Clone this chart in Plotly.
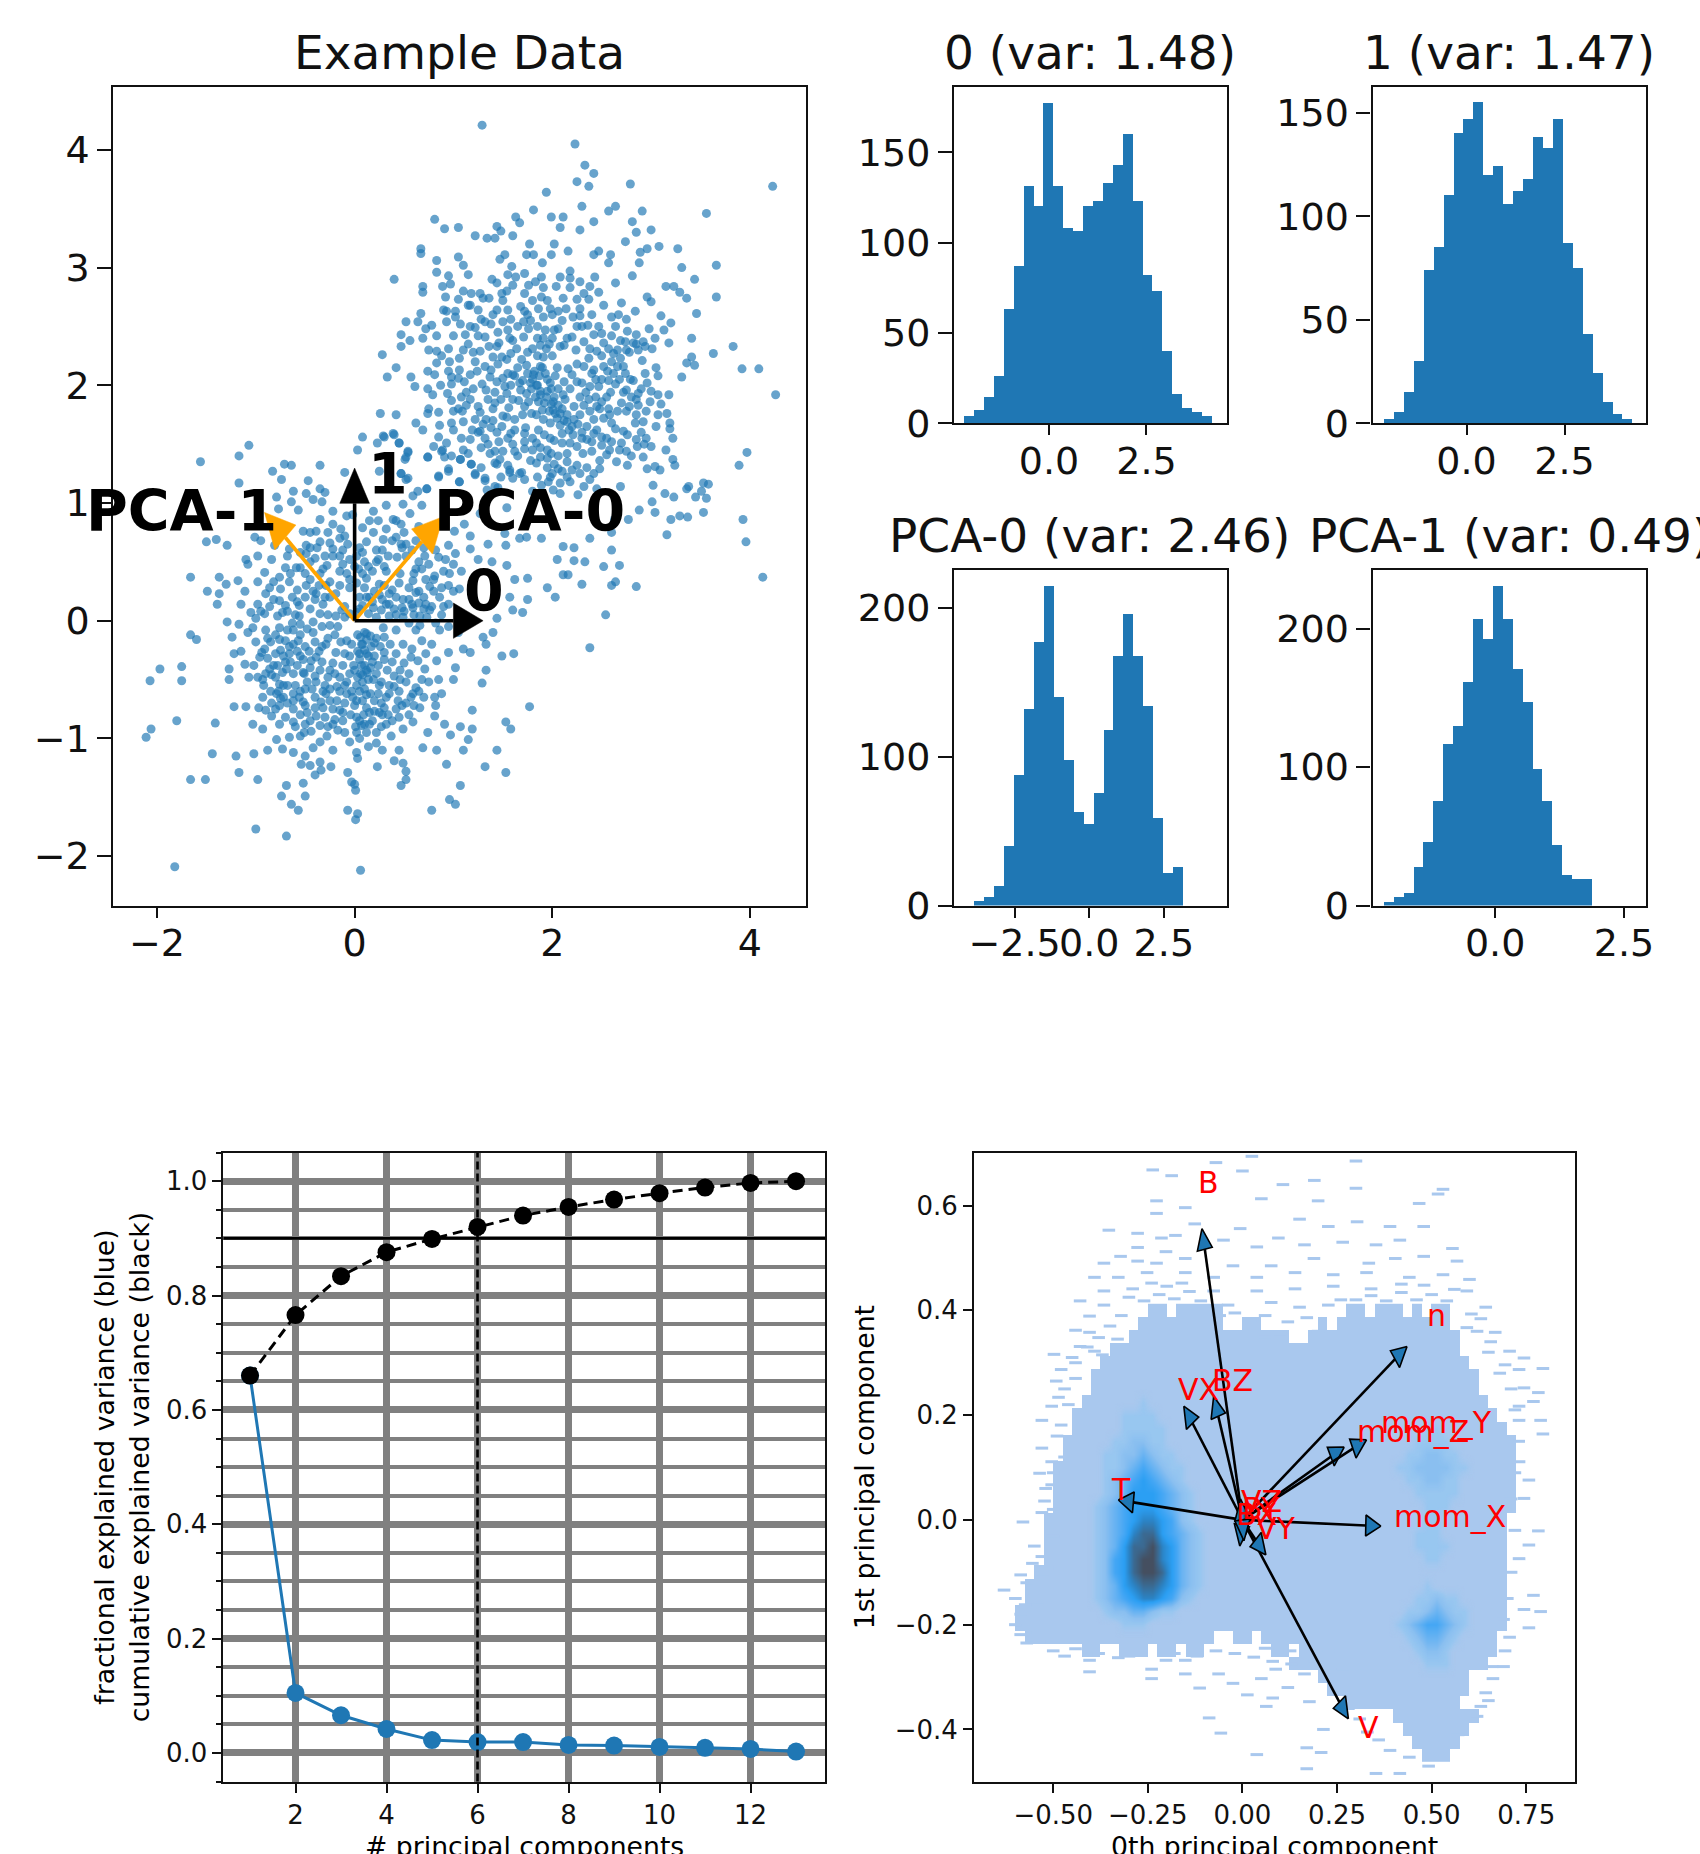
import plotly.graph_objects as go

FONT = "DejaVu Sans"
BLUE = "#1f77b4"
S = 1700 / 1438.0
W, H = 1700.0, 1854.0

# ---------- example data ----------
upper_cluster = [
(1.29,4.21),(2.23,4.05),(2.33,3.87),(2.42,3.80),(2.25,3.73),(2.37,3.69),(2.79,3.71),(1.94,3.64),(4.23,3.69),(2.30,3.52),
(2.64,3.52),(2.57,3.48),(2.91,3.48),(3.56,3.46),(1.81,3.49),(1.63,3.43),(1.99,3.43),(2.11,3.43),(1.67,3.38),(2.42,3.39),
(2.81,3.39),(.81,3.41),(.91,3.33),(1.05,3.34),(1.44,3.35),(1.48,3.31),(1.22,3.27),(1.34,3.25),(1.42,3.25),(1.60,3.27),
(2.08,3.34),(2.28,3.32),(2.85,3.30),(3.00,3.32),(2.74,3.22),(1.77,3.20),(2.02,3.20),(3.08,3.18),(2.96,3.16),(2.89,3.13),
(3.27,3.16),(2.16,3.14),(2.47,3.14),(2.42,3.11),(2.59,3.11),(.67,3.16),(.67,3.12),(1.05,3.09),(1.52,3.11),(1.47,3.07),
(1.74,3.11),(1.81,3.11),(1.99,3.11),(.83,3.06),(1.90,3.04),(2.57,3.04),(2.88,3.04),(3.66,3.02),(3.31,3.00),(1.10,3.02),
(1.59,3.01),(.83,2.96),(.95,2.93),(1.15,2.94),(2.18,2.97),(2.81,2.93),(.40,2.90),(3.44,2.90),(2.64,2.87),(1.39,2.90),
(1.44,2.87),(1.55,2.94),(1.72,2.95),(1.89,2.92),(2.18,2.91),(2.43,2.92),(2.28,2.88),(3.15,2.84),(3.23,2.84),(.69,2.84),
(.69,2.79),(.97,2.86),(.89,2.84),(1.10,2.80),(1.18,2.78),(1.27,2.78),(1.49,2.78),(1.60,2.85),(1.76,2.85),(1.91,2.83),
(2.04,2.84),(2.18,2.83),(2.38,2.84),(2.47,2.79),(3.29,2.79),(3.66,2.75),(3.36,2.74),(.92,2.75),(1.05,2.73),(1.36,2.74),
(1.72,2.78),(1.80,2.72),(1.89,2.75),(2.11,2.74),(2.25,2.73),(2.37,2.73),(2.96,2.75),(3.00,2.71),(2.70,2.70),(2.84,2.63),
(3.46,2.61),(.67,2.61),(.93,2.63),(1.02,2.63),(1.17,2.68),(1.25,2.64),(1.44,2.64),(1.55,2.64),(1.72,2.63),(1.98,2.65),
(2.06,2.63),(2.28,2.65),(2.40,2.60),(2.67,2.60),(3.10,2.59),(.52,2.54),(.64,2.54),(.93,2.54),(1.02,2.58),(1.32,2.54),
(1.50,2.54),(1.71,2.54),(1.91,2.58),(2.21,2.58),(2.75,2.56),(3.20,2.53),(.78,2.51),(1.17,2.50),(1.55,2.47),(1.76,2.48),
(1.93,2.47),(2.06,2.48),(2.30,2.50),(2.47,2.50),(2.64,2.50),(3.13,2.47),(.47,2.43),(.56,2.38),(.69,2.40),(.83,2.42),
(1.00,2.42),(1.12,2.43),(1.32,2.41),(1.57,2.40),(1.71,2.41),(1.91,2.40),(2.20,2.41),(2.42,2.43),(2.69,2.38),(2.85,2.43),
(2.92,2.37),(3.41,2.40),(.47,2.33),(.83,2.29),(.95,2.31),(1.10,2.30),(1.27,2.29),(1.44,2.33),(1.64,2.31),(1.94,2.31),
(2.08,2.33),(2.45,2.29),(2.62,2.27),(2.82,2.36),(3.01,2.31),(3.18,2.36),(3.83,2.33),(3.63,2.27),(.28,2.26),(.83,2.19),
(.96,2.20),(1.22,2.20),(1.40,2.24),(1.54,2.22),(1.91,2.24),(2.37,2.23),(2.69,2.23),(2.91,2.21),(3.41,2.24),(3.36,2.19),
(3.44,2.17),(.42,2.15),(.74,2.12),(.95,2.12),(1.06,2.13),(1.32,2.16),(1.74,2.17),(1.88,2.16),(2.16,2.14),(2.52,2.16),
(2.72,2.16),(3.05,2.15),(3.92,2.14),(4.09,2.14),(.33,2.07),(.57,2.07),(.81,2.09),(.98,2.07),(1.17,2.09),(1.37,2.07),
(1.60,2.09),(1.81,2.09),(2.20,2.09),(2.42,2.13),(2.62,2.10),(2.94,2.10),(3.07,2.08),(3.31,2.07),(.61,1.99),(.98,2.01),
(1.11,2.03),(1.29,2.01),(1.44,2.03),(1.67,2.02),(1.84,2.00),(2.25,2.03),(2.38,1.99),(2.47,1.99),(2.64,2.01),(2.79,2.05),
(2.96,2.02),(.74,1.97),(.79,1.92),(1.13,1.94),(1.42,1.94),(1.54,1.93),(1.74,1.93),(1.88,1.92),(2.11,1.92),(2.28,1.90),
(2.59,1.94),(2.75,1.96),(2.87,1.93),(3.07,1.92),(3.18,1.92),(4.26,1.92),(.98,1.87),(1.17,1.88),(1.42,1.85),(1.60,1.88),
(1.86,1.86),(2.01,1.86),(2.13,1.88),(2.37,1.88),(2.85,1.88),(2.99,1.86),(1.05,1.80),(1.13,1.83),(1.72,1.82),(2.45,1.82),
(2.57,1.80),(2.01,1.79),(.26,1.76),(.42,1.75),(.74,1.76),(.85,1.77),(1.00,1.78),(1.27,1.77),(1.54,1.73),(1.84,1.75),
(2.08,1.76),(2.28,1.75),(2.75,1.78),(3.07,1.75),(2.58,1.75),(.98,1.68),(1.10,1.69),(1.33,1.71),(.86,1.66),(3.19,1.68),
(2.92,1.69),(2.42,1.71),(2.15,1.69),(1.91,1.71),(3.19,1.63),(.69,1.62),(.39,1.59),(.29,1.57),(.85,1.56),(1.08,1.55),
(1.17,1.54),(1.27,1.61),(1.44,1.60),(1.58,1.59),(1.72,1.59),(1.86,1.62),(2.10,1.59),(2.21,1.58),(2.42,1.59),(2.64,1.63),
(2.85,1.54),(3.22,1.55),(.45,1.51),(.93,1.51),(1.32,1.55),(1.98,1.55),(2.35,1.54),(2.50,1.56),(2.70,1.51),(.54,1.44),
(.89,1.45),(1.42,1.44),(1.62,1.44),(1.84,1.51),(1.72,1.46),(2.10,1.51),(2.25,1.48),(2.58,1.45),(2.75,1.44),(3.15,1.45),
(3.97,1.43),(.52,1.39),(.74,1.39),(.91,1.39),(1.07,1.37),(1.47,1.37),(1.88,1.39),(1.99,1.42),(2.15,1.42),(2.31,1.42),
(2.55,1.41),(2.92,1.39),(3.22,1.37),(1.18,1.33),(1.42,1.34),(1.84,1.34),(2.25,1.32),(2.76,1.32),(3.04,1.31),(3.24,1.32),
(3.89,1.32),(.95,1.29),(1.57,1.28),(1.69,1.26),(2.06,1.29),(2.28,1.25),(2.48,1.29),(2.96,1.29),(3.09,1.28),(.47,1.25),
(.85,1.23),(1.22,1.24),(1.32,1.21),(1.60,1.21),(1.98,1.22),(2.15,1.22),(2.38,1.20),(1.06,1.18),(.54,1.21),(1.42,1.14),
(1.89,1.15),(2.08,1.17),(2.45,1.12),(2.69,1.14),(3.02,1.15),(3.14,1.08),(3.36,1.12),(3.58,1.16),(3.51,1.10),(.73,1.12),
(.64,1.10),(1.34,1.11),(2.01,1.11),(2.26,1.07),(3.23,1.05),
(3.53,1.17),(3.38,1.14),(3.56,1.04),(3.45,1.05),(3.53,.92),(3.2,.86),(3.29,.89),(3.37,.88),(3.04,.92),(3.16,.73),
(3.93,.86),(3.96,.67),(4.13,.37),(2.85,.29),(2.60,.30),(2.64,.33),(2.54,.05),(2.38,-.23),(2.03,.20),(1.95,.28),
(2.30,.31),(2.16,.39),(2.11,.39),(2.52,.46),(2.60,.60),(2.68,.47),(2.05,.52),(2.22,.51),(2.33,.50),(2.11,.63),
(2.22,.62),(2.38,.70),(2.63,.86),(2.77,.86),(2.88,.94),(2.60,.75),(1.89,.70),(1.67,.70),(3.01,1.01),
(1.75,2.10),(1.80,2.05),(1.85,2.00),(1.90,2.15),(1.95,2.05),(2.00,2.25),(2.05,2.15),(1.95,1.95),(2.02,1.90),(1.92,1.85),
(2.10,1.80),(2.15,1.75),(2.05,1.72),(1.98,1.68),(2.20,1.65),(2.30,1.60),(2.35,1.65),(2.45,1.62),(2.55,1.55),(2.15,2.40),
(2.00,2.40),(2.10,2.55),(2.00,2.60),(2.25,2.50),(1.85,2.25),(1.75,2.28),(1.65,2.15),(1.55,2.10),(1.45,2.18),(1.85,2.50),
(1.75,2.60),(1.65,2.50),(1.45,2.45),(1.40,2.60),(1.25,2.42),(1.15,2.35),(2.75,2.30),(2.85,2.35),(2.60,2.20),(2.50,2.25),
(2.40,2.10),(2.50,2.05),(2.55,1.90),(2.70,1.85),(2.85,1.75),(2.90,1.60),(2.95,1.55),(3.00,1.95),(1.40,1.70),(1.25,1.60),
(1.35,1.50),(1.55,1.55),(1.65,1.40),(1.80,1.45),(1.95,1.45),(1.95,1.30),(2.00,1.25),(1.85,1.22),(2.15,1.35),(2.35,1.30),
(1.78,2.02),(1.82,2.12),(1.87,2.08),(1.93,2.10),(1.98,2.02),(2.03,2.08),(1.88,1.95),(1.83,1.90),(1.79,1.97),(1.94,1.90),
(1.99,1.84),(2.06,1.83),(2.12,1.70),(2.08,1.66),(2.17,1.62),(2.22,1.71),(2.26,1.67),(2.03,1.76),(1.97,1.78),(1.90,1.79),
(1.70,2.04),(1.62,2.08),(1.68,1.96),(1.58,2.00),(1.50,2.06),(1.52,1.99),(1.48,1.88),(1.56,1.81),(1.66,1.87),(1.76,1.86),
(1.79,1.76),(1.70,1.75),(1.62,1.71),(1.49,1.65),(1.38,1.64),(1.30,1.67),(1.22,1.71),(1.25,1.82),(1.35,1.88),(1.33,1.96),
(1.20,1.97),(1.08,1.90),(1.05,2.06),(1.24,2.12),(1.38,2.13),(1.49,2.24),(1.58,2.27),(1.69,2.22),(1.80,2.31),(1.88,2.34),
(1.97,2.35),(2.02,2.47),(2.12,2.34),(2.24,2.30),(2.32,2.37),(2.38,2.31),(2.52,2.36),(2.57,2.31),(2.66,2.30),(2.74,2.37),
(2.78,2.28),(2.87,2.30),(2.94,2.33),(2.60,2.42),(2.50,2.44),(2.36,2.51),(2.28,2.59),(2.14,2.65),(1.95,2.72),(1.86,2.65),
(1.78,2.55),(1.68,2.67),(1.58,2.56),(1.50,2.72),(1.38,2.52),(1.28,2.56),(1.22,2.49),(1.36,2.33),(1.20,2.28),(1.06,2.23),
(2.32,2.16),(2.25,2.18),(2.30,2.02),(2.44,2.05),(2.57,2.04),(2.68,2.05),(2.72,1.94),(2.80,1.90),(2.66,1.78),(2.78,1.82),
(2.87,1.83),(2.95,1.78),(2.84,1.68),(2.93,1.50),(2.86,1.48),(2.72,1.61),(2.60,1.68),(2.52,1.72),(2.48,1.80),(2.38,1.78),
(2.32,1.83),(2.22,1.82),(2.30,1.55),(2.40,1.52),(2.50,1.49),(2.60,1.52),(2.68,1.45),(2.76,1.58),(2.40,1.44),(2.18,1.51),
(2.02,1.53),(1.92,1.58),(1.80,1.55),(1.72,1.52),(1.60,1.50),(1.46,1.52),(1.37,1.42),(1.28,1.47),(1.50,1.44),(1.78,1.36),
(1.88,1.47),(1.95,1.38),(2.06,1.40),(2.02,1.33),(2.10,1.27),(2.20,1.28),(2.18,1.18),(1.96,1.18),(1.72,1.20),(1.80,1.10),
(2.08,1.08),(2.32,1.14),(1.10,1.45),(1.00,1.62),(.75,1.80),(.87,2.00),(.88,2.25),(.75,2.30),(.72,2.48),(.90,2.64),
(1.54,2.80),(1.63,2.92),(1.83,2.88),(2.08,2.92),(2.32,2.78),(2.52,2.68),(2.60,2.58),(2.76,2.46),(2.98,2.48),(3.04,2.40),
(1.07,2.52),(1.15,2.68),(1.30,2.74),(1.85,2.40),(1.60,2.38),(1.46,2.36),(1.73,1.64),(1.62,1.62),(1.50,1.74),(1.40,1.80),
(1.19,1.62),(1.09,1.78),(.94,1.93),(2.12,2.03),(2.06,1.97),(1.99,1.97),(2.18,1.97),(2.34,1.94),(2.44,1.90),(2.50,1.86),
(2.56,2.12),(2.66,2.16),(2.74,2.10),(2.82,2.04),(2.90,1.97),(3.10,1.84),(3.16,1.76),(3.05,1.65),(3.00,1.48),(2.80,1.40),
(2.65,1.35),(2.48,1.36),(2.42,1.25),(1.55,1.32),(1.48,1.22),(1.28,1.30),(1.15,1.42),(.98,1.40),(.80,1.48),(.62,1.68),
]
lower_cluster = [
(-1.07,1.49),(-1.17,1.40),(-1.56,1.35),(-.71,1.33),(-.64,1.32),(-.35,1.32),(-.83,1.27),(-.74,1.20),(-1.17,1.17),(-.47,1.19),
(-.10,1.26),(.08,1.56),(.03,1.45),(.23,1.51),(.30,1.56),(.40,1.58),(.45,1.51),(.54,1.43),(.51,1.37),(.74,1.39),
(.88,1.44),(.95,1.27),(1.07,1.37),(1.18,1.33),(.85,1.22),(.25,1.27),(.47,1.25),(.52,1.20),(1.22,1.25),(1.06,1.18),
(1.32,1.19),(1.44,1.33),(1.57,1.26),(1.67,1.25),(1.45,1.13),(-.62,1.10),(-.49,1.08),(-.35,1.12),(-.30,1.09),(-.79,1.05),
(-.64,1.01),(-.42,1.03),(-.33,1.01),(-.77,.95),(-.57,.94),(-.22,.93),(-.08,.89),(.19,.93),(.32,.98),(.49,.99),
(.59,1.06),(.73,1.12),(.68,.98),(.56,.91),(.39,.86),(.24,.85),(-.35,.86),(-.22,.82),(-.52,.76),(-.39,.76),
(-.27,.75),(-.14,.78),(.08,.79),(.32,.78),(.19,.75),(.47,.82),(1.11,.82),(1.27,.91),(1.54,.96),(1.74,.71),
(1.52,.74),(1.17,.72),(1.01,.76),(-1.50,.67),(-1.40,.69),(-1.29,.64),(-1.01,.71),(-.95,.68),(-.81,.64),(-.66,.61),
(-.49,.64),(-.35,.67),(-.22,.61),(-.07,.65),(.12,.67),(.29,.69),(.42,.71),(.52,.65),(.47,.65),(.95,.64),
(1.17,.61),(1.35,.65),(1.53,.64),(1.02,.57),(-1.10,.52),(-1.08,.48),(-.98,.55),(-.84,.52),(-.68,.55),(-.49,.57),
(-.30,.55),(-.15,.55),(.10,.50),(.24,.52),(.43,.54),(.71,.55),(.85,.54),(1.25,.52),(1.39,.50),(1.54,.47),
(1.00,.48),(.62,.44),(-.91,.41),(-.59,.45),(-.32,.44),(-.15,.42),(.08,.40),(.32,.42),(.46,.40),(.81,.38),
(.96,.40),(1.08,.42),(-1.66,.37),(-1.37,.37),(-1.30,.31),(-1.18,.34),(-.98,.33),(-.76,.37),(-.86,.28),(-.49,.30),
(-.29,.30),(-.05,.28),(.25,.31),(.59,.34),(.76,.29),(1.06,.27),(1.62,.35),(1.75,.36),(-1.49,.25),(-1.37,.23),
(-1.11,.25),(-.63,.20),(-.39,.23),(-.19,.23),(.05,.20),(.35,.23),(.49,.18),(.86,.20),(1.00,.25),(1.57,.20),
(1.75,.18),(-1.39,.14),(-1.15,.14),(-.98,.14),(-.76,.17),(-.56,.13),(-.32,.14),(.19,.11),(.32,.14),(.59,.11),
(.76,.09),(.95,.14),(-1.05,.07),(-.91,.06),(-.73,.07),(-.56,.04),(-.35,.06),(-.19,.04),(.49,.03),(.66,.04),
(.88,.05),(1.60,.09),(1.70,.07),(1.44,.02),(-1.29,-.01),(-1.17,-.03),(-1.03,-.06),(-.90,-.08),(-.76,-.06),(-.42,-.10),
(-.25,-.04),(.12,-.11),(.29,-.06),(.42,-.08),(.62,-.08),(.86,-.08),(1.40,-.10),(1.30,-.14),(-1.66,-.12),(-1.60,-.16),
(-1.24,-.14),(-1.00,-.18),(-.76,-.16),(-.57,-.17),(-.29,-.20),(-.08,-.17),(.08,-.20),(.49,-.20),(.68,-.17),(1.33,-.20),
(1.10,-.24),(1.17,-.27),(1.49,-.30),(1.61,-.28),(-1.22,-.28),(-1.15,-.26),(-.91,-.24),(-.66,-.28),(-.39,-.31),(-.19,-.27),
(.05,-.28),(.30,-.27),(.57,-.31),(.83,-.34),(.95,-.27),(-1.11,-.37),(-.96,-.31),(-1.27,-.41),(-1.97,-.41),(-1.75,-.39),
(-.86,-.41),(-.69,-.41),(-.51,-.45),(-.25,-.42),(.12,-.42),(.46,-.50),(.71,-.41),(1.02,-.40),(1.33,-.42),(-2.07,-.51),
(-1.75,-.51),(-1.27,-.50),(-1.07,-.48),(-.93,-.50),(-.76,-.54),(-.39,-.52),(-.08,-.52),(.25,-.55),(.62,-.57),(.85,-.50),
(1.00,-.50),(1.29,-.53),(-.79,-.62),(-.93,-.65),(-.56,-.65),(-.29,-.62),(-.02,-.65),(.32,-.65),(.59,-.62),(.81,-.65),
(.88,-.62),(-1.22,-.73),(-1.10,-.73),(-.97,-.74),(-.76,-.72),(-.52,-.69),(-.32,-.74),(-.15,-.76),(.12,-.74),(.42,-.75),
(.66,-.74),(.82,-.72),(1.19,-.76),(1.77,-.73),(-.84,-.81),(-.39,-.81),(.02,-.82),(.25,-.78),(.81,-.81),(-1.80,-.85),
(-1.41,-.87),(-1.03,-.88),(-.93,-.92),(-.76,-.88),(-.35,-.89),(-.22,-.88),(.07,-.89),(.32,-.88),(.59,-.86),(.91,-.88),
(1.07,-.90),(1.19,-.92),(1.53,-.86),(1.58,-.92),(-2.06,-.92),(-2.11,-.99),(-.79,-1.01),(-.66,-.99),(-.51,-.95),(-.35,-1.03),
(-.17,-.93),(-.05,-1.03),(.22,-1.04),(.37,-.98),(.49,-.92),(.74,-.95),(.97,-.97),(1.15,-1.01),(-.73,-1.09),(-.88,-1.10),
(-1.44,-1.13),(-1.20,-1.15),(-1.02,-1.13),(-.22,-1.10),(.02,-1.12),(.45,-1.10),(.69,-1.08),(.83,-1.10),(1.10,-1.10),(1.44,-1.10),
(-.50,-1.15),(.03,-1.17),(.40,-1.19),(-.54,-1.22),(-.45,-1.23),(-.35,-1.20),(-.24,-1.24),(.23,-1.24),(.49,-1.21),(.93,-1.22),
(1.32,-1.24),(-1.17,-1.29),(-.34,-1.27),(-.07,-1.29),(.52,-1.28),(1.53,-1.29),(-1.66,-1.35),(-1.51,-1.35),(-.98,-1.35),(-.40,-1.31),
(-.52,-1.38),(-.03,-1.37),(.52,-1.35),(-.69,-1.40),(.47,-1.40),(0,-1.39),(.01,-1.44),(1.07,-1.40),(-.74,-1.49),(-.50,-1.49),
(-.64,-1.56),(.96,-1.52),(1.02,-1.56),(-.57,-1.61),(-.07,-1.61),(.78,-1.61),(.03,-1.64),(.01,-1.69),(-1.00,-1.77),(-.69,-1.83),
(-1.82,-2.09),(.06,-2.12),
(.10,-.25),(.05,-.33),(.14,-.30),(.10,-.38),(.18,-.35),(.06,-.45),(.14,-.50),(.02,-.55),(.10,-.58),(.16,-.62),
(.22,-.45),(.20,-.68),(.08,-.68),(.00,-.72),(.15,-.78),(.05,-.85),(.12,-.95),(.02,-.95),(.18,-.85),(.28,-.80),
(.35,-.55),(.38,-.35),(.55,-.45),(.60,-.72),(.55,-.80),(.48,-.72),
(-.55,-.30),(-.50,-.22),(-.62,-.20),(-.70,-.35),(-.62,-.45),(-.72,-.55),(-.80,-.48),(-.60,-.55),(-.50,-.58),(-.45,-.40),
(-.35,-.42),(-.30,-.55),(-.20,-.45),(-.12,-.38),(-.15,-.60),(-.25,-.68),(-.40,-.65),(-.50,-.72),(-.62,-.75),(-.55,-.80),
(-.45,-.85),(-.30,-.82),(-.22,-.75),(-.10,-.70),(-.68,-.70),(-.80,-.75),(-.85,-.60),(-.90,-.45),(-.75,-.25),(-.85,-.18),
(-.62,-.08),(-.55,-.12),
(-.45,.10),(-.60,.05),(-.70,.13),(-.82,.18),(-.40,.18),(-.25,.20),(-.10,.12),(-.05,.35),(.15,.20),(.10,.28),
(.25,.22),(.40,.10),(.55,.18),(.70,.20),(.70,.10),(.95,-.05),(1.05,-.10),(-.12,.48),(.02,.55),(.18,.42),
(.28,.60),(.52,.55),(.65,.50),(-.45,.50),(-.70,.45),(-.15,.70),(.05,.62),(-.45,.75),(-.02,.90),(.15,.85),
(.42,.85),(.65,.80),(.70,.62),(.90,.42),(.75,.48),(.50,.75),
(.12,-.16),(.07,-.20),(.17,-.22),(.03,-.12),(.22,-.15),(.26,-.22),(.20,-.30),(.07,-.38),(.13,-.44),(.19,-.50),
(.03,-.48),(.08,-.52),(.24,-.38),(.30,-.33),(.33,-.42),(.40,-.47),(.27,-.52),(.35,-.62),(.45,-.60),(.52,-.52),
(.57,-.65),(.44,-.68),(.24,-.62),(.27,-.70),(.12,-.63),(.05,-.60),(-.03,-.60),(-.05,-.45),(-.01,-.38),(-.05,-.30),
(-.10,-.28),(-.14,-.18),(-.20,-.12),(-.27,-.15),(-.33,-.22),(-.40,-.18),(-.46,-.26),(-.52,-.33),(-.58,-.38),(-.65,-.35),
(-.73,-.44),(-.82,-.38),(-.80,-.28),(-.70,-.17),(-.68,-.08),(-.63,-.02),(-.55,-.03),(-.48,-.07),(-.42,-.01),(-.33,-.05),
(-.27,.05),(-.17,-.05),(-.10,.03),(-.13,.09),(-.05,.06),(.03,.07),(.08,.13),(.14,.06),(.22,.03),(.27,.09),
(.35,.04),(.42,.05),(.48,.11),(.55,-.02),(.60,.05),(.66,-.04),(.73,.03),(.78,.12),(.82,-.02),(.90,.12),
(-.42,.25),(-.50,.20),(-.58,.26),(-.66,.33),(-.75,.27),(-.82,.33),(-.90,.23),(-.95,.08),(-1.00,.02),(-1.08,-.10),
(-.88,-.15),(-.94,-.27),(-1.02,-.38),(-.88,-.32),(-.80,-.12),(-.45,.35),(-.35,.40),(-.25,.33),(-.15,.30),(-.08,.40),
(.02,.32),(.12,.36),(.20,.25),(.30,.30),(.38,.26),(.45,.32),(.55,.28),(.65,.25),(.72,.35),(.80,.25),
(-.55,.45),(-.45,.62),(-.55,.58),(-.40,.53),(-.28,.47),(-.22,.55),(-.12,.60),(-.05,.52),(.04,.44),(.14,.46),
(.22,.60),(.34,.55),(.38,.68),(.58,.60),(.62,.68),(.75,.70),(.82,.60),(.92,.52),(.95,.30),(.65,.15),
(-.62,-.62),(-.48,-.52),(-.40,-.47),(-.33,-.35),(-.22,-.36),(-.27,-.48),(-.15,-.48),(-.10,-.55),(-.18,-.68),(-.32,-.60),
(-.43,-.58),(-.55,-.60),(-.62,-.68),(-.72,-.65),(-.77,-.60),(-.48,-.78),(-.40,-.74),(-.27,-.90),(-.12,-.85),(-.04,-.80),
(.02,-.68),(.09,-.80),(.15,-.88),(.22,-.95),(.27,-.90),(.38,-.85),(.45,-.82),(.30,-.74),(.65,-.60),(.70,-.65),
(-.60,-.90),(-.55,-.98),(-.44,-.94),(-.28,-.98),(-.10,-.95),(.05,-1.00),(.14,-1.07),(-.42,-1.08),(-.62,-1.12),(.28,-1.10),
(.06,-.14),(.10,-.10),(.16,-.13),(.20,-.19),(.12,-.28),(.16,-.40),(.08,-.46),(.00,-.42),(.03,-.26),(-.03,-.20),
(.30,-.14),(.36,-.20),(.42,-.28),(.50,-.36),(.58,-.24),(.64,-.34),(.72,-.28),(.78,-.20),(.75,-.52),(.68,-.50),
(-.36,-.26),(-.44,-.34),(-.52,-.44),(-.58,-.26),(-.66,-.22),(-.72,-.30),(-.78,-.38),(-.84,-.46),(-.92,-.55),(-.98,-.48),
(-.68,-.55),(-.75,-.66),(-.84,-.70),(-.90,-.76),(-.70,-.82),(-.62,-.86),(-.50,-.88),(-.34,-.69),(-.25,-.58),(-.18,-.56),
(-.08,-.62),(-.12,-.78),(-.20,-.84),(.01,-.90),(.10,-.88),(.20,-.77),(.34,-.80),(.52,-.70),(.40,-.56),(.46,-.42),
(-.30,.20),(-.36,.30),(-.58,.16),(-.68,.08),(-.78,.04),(-.86,.12),(-.65,.40),(-.50,.40),(-.38,.62),(-.25,.66),
(-.10,.72),(.00,.46),(.08,.58),(.22,.50),(.30,.46),(.48,.62),(.60,.40),(.68,.44),(.80,.35),(.88,.28),
(.05,.10),(.12,.20),(.18,.16),(.28,.18),(.35,.14),(.42,.20),(.50,.08),(.58,.14),(.62,.24),(.72,.14),
]

# histogram counts with first bin edge and bin width
hist_0 = [4,7,14,26,63,87,131,120,177,131,108,106,120,123,133,143,160,123,82,73,40,16,8,6,4]
hist_1 = [2,5,15,30,74,85,110,140,147,155,120,124,106,112,118,138,133,147,87,75,43,24,10,4,2]
hist_p0 = [3,6,13,40,88,132,177,215,140,98,63,55,76,118,168,196,168,134,59,22,26]
hist_p1 = [3,6,9,28,46,76,117,130,162,207,193,231,207,171,147,99,76,44,22,19,19]

# ---------- explained variance ----------
n_components = [1,2,3,4,5,6,7,8,9,10,11,12,13]
frac_var = [.66,.105,.066,.042,.0225,.019,.019,.014,.013,.0105,.009,.007,.0024]
cum_var = [.66,.766,.834,.876,.899,.920,.940,.955,.968,.979,.989,.997,1.0]

# ---------- biplot: arrow tips and labels ----------
arrow_names = ["B","BZ","VX","T","n","mom_Z","mom_Y","mom_X","V","VY","VZ","BY","BX"]
arrow_x = [-.107,-.076,-.155,-.328,.435,.269,.328,.366,.28,.062,-.005,-.007,.004]
arrow_y = [.556,.236,.217,.038,.331,.139,.153,-.012,-.38,-.067,.04,-.05,-.04]
label_x = [-.091,-.025,-.116,-.322,.513,.451,.513,.549,.334,.088,.050,.048,.038]
label_y = [.644,.267,.248,.058,.390,.168,.186,.007,-.397,-.017,.036,.022,.010]

# density levels (0 = empty); rows run top to bottom from y=0.40, step 0.025; columns from x=-0.70, step 0.025
density_rows = [
"00000000 00000000 00110111 11000000 00000001 10111010 11000000 00000000",
"00000000 00000000 01111111 11001100 00001011 11111111 11000000 00000000",
"00000000 00000000 11111111 11111111 10011111 11111111 11100000 00000000",
"00000000 00000011 11111111 11111111 11111111 11111111 11100000 00000000",
"00000000 00000111 11111111 11111111 11111111 11111111 11110000 00000000",
"00000000 00001111 11111111 11111111 11111111 11111111 11111000 00000000",
"00000000 00001111 11111111 11111111 11111111 11111111 11111000 00000000",
"00000000 00011111 12111111 11111111 11111111 11111111 11111100 00000000",
"00000000 00111112 22211111 11111111 11111111 11111111 11111110 00000000",
"00000000 00111112 22221111 11111111 11111111 11111112 21111111 00000000",
"00000000 01111122 33221111 11111111 11111111 11111122 22111111 10000000",
"00000000 01111223 34322111 11111111 11111111 11111223 32211111 10000000",
"00000000 11111223 45432211 11111111 11111111 11112233 33221111 10000000",
"00000000 11111234 56543211 11111111 11111111 11111223 32211111 10000000",
"00000000 11111234 66654321 11111111 11111111 11111122 22211111 10000000",
"00000000 11112345 66654321 11111111 11111111 11111112 22111111 10000000",
"00000001 11112345 67765321 11111111 11111111 11111112 21111111 00000000",
"00000001 11112345 78865432 11111111 11111111 11111122 21111111 00000000",
"00000001 11112346 88976432 11111111 11111111 11111122 22111111 00000000",
"00000001 11112356 89976432 11111111 11111111 11111112 21111111 00000000",
"00000011 11112356 89986432 11111111 11111111 11111111 11111111 00000000",
"00000111 11112346 78876432 11111111 11111111 11111112 11111111 00000000",
"00000111 11112345 67765321 11111111 11111111 11111122 32211111 00000000",
"00001111 11111233 44322111 11111111 11111111 11111223 43221111 00000000",
"00001111 11111112 22111111 11111111 11111111 11112345 54321111 00000000",
"00000111 11111111 11111111 10011011 11111111 11111234 43211110 00000000",
"00000000 00011001 11011011 00000001 10111111 11111123 32111110 00000000",
"00000000 00000000 00000000 00000000 01111111 11111112 22111100 00000000",
"00000000 00000000 00000000 00000000 00001111 11111111 11110000 00000000",
"00000000 00000000 00000000 00000000 00000111 11111111 11110000 00000000",
"00000000 00000000 00000000 00000000 00000001 11111111 11100000 00000000",
"00000000 00000000 00000000 00000000 00000000 00001111 11111000 00000000",
"00000000 00000000 00000000 00000000 00000000 00000111 11110000 00000000",
"00000000 00000000 00000000 00000000 00000000 00000011 11100000 00000000",
"00000000 00000000 00000000 00000000 00000000 00000001 11000000 00000000",
]
# isolated occupied bins outside the solid region
speck_bins = [
(.21,.715),(.27,.728),(.385,.708),(.025,.694),(.30,.685),(-.07,.682),(-.237,.668),(-.187,.657),(0,.666),(.19,.648),
(.107,.64),(.30,.633),(.53,.631),(-.227,.609),(-.151,.596),(.05,.613),(.20,.609),(.303,.569),(.151,.574),(.467,.604),
(.517,.622),(-.227,.585),(-.126,.565),(-.006,.556),(.095,.538),(.227,.56),(.39,.56),(.479,.56),(-.353,.553),(-.277,.547),
(-.214,.538),(-.177,.543),(-.05,.534),(.038,.521),(.164,.525),(.265,.53),(.353,.525),(.416,.534),(.555,.518),(-.202,.512),
(-.277,.52),(-.322,.503),(-.366,.49),(-.277,.494),(-.227,.49),(-.151,.499),(-.025,.485),(.076,.485),(.189,.499),(.334,.49),
(.404,.499),(.479,.503),(.567,.494),(-.391,.463),(-.328,.463),(-.252,.472),(-.151,.472),(-.076,.463),(.038,.463),(.139,.472),
(.24,.468),(.328,.472),(.441,.463),(.53,.468),(.6,.459),(-.366,.437),(-.29,.441),(-.076,.437),(.038,.437),(.139,.441),
(.24,.446),(.34,.441),(.593,.437),(.643,.406),(-.429,.418),(-.366,.41),(-.038,.41),(.076,.415),(.151,.406),(.227,.41),
(.605,.393),(-.404,.389),(-.441,.362),(-.404,.358),(.593,.367),(.668,.358),(.63,.384),(.656,.34),(.706,.322),(-.429,.331),
(-.391,.322),(-.498,.316),(-.441,.3),(.744,.309),(.794,.289),(.731,.287),(.694,.296),(-.479,.287),(-.441,.27),(-.492,.265),
(.782,.243),(.744,.252),(.731,.217),(.769,.226),(.788,.19),(.794,.164),(.731,.19),(-.53,.19),(-.504,.217),(-.486,.234),
(-.479,.181),(-.53,.137),(-.504,.111),(-.536,.089),(-.504,.067),(-.523,.036),(-.58,-.004),(-.53,.014),(.757,.076),(.731,.111),
(.744,.041),(.782,-.021),(.757,-.048),(.731,-.074),(-.555,-.083),(-.517,-.092),(-.53,-.109),(-.586,-.105),(-.63,-.134),(-.574,-.162),
(-.586,-.18),(-.542,-.162),(-.586,-.219),(-.542,-.215),(.769,-.144),(.788,-.175),(.744,-.171),(.757,-.206),(.706,-.224),(.694,-.25),
(-.504,-.233),(-.441,-.246),(-.404,-.268),(-.404,-.29),(-.328,-.263),(-.24,-.285),(-.24,-.303),(-.202,-.268),(-.151,-.294),(-.113,-.321),
(-.151,-.268),(-.063,-.294),(-.025,-.312),(.013,-.334),(.05,-.303),(.063,-.356),(.088,-.285),(.126,-.25),(.164,-.294),(-.088,-.378),
(-.057,-.407),(.038,-.448),(.17,-.435),(.17,-.475),(.214,-.4),(.208,-.444),(.177,-.347),(.227,-.25),(.265,-.285),(.662,-.303),
(.643,-.33),(.63,-.356),(.353,-.484),(.416,-.484),(.492,-.47),(.441,-.453),(.353,-.589),
(-.30,.425),(-.26,.418),(-.22,.43),(-.18,.422),(-.14,.436),(-.11,.418),(-.24,.452),(-.20,.446),(-.16,.452),(.30,.42),
(.34,.428),(.38,.418),(.42,.434),(.46,.42),(.50,.43),(.54,.418),(.42,.45),(.48,.448),(.56,.44),(.26,.42),
(-.06,.39),(-.02,.395),(.02,.382),(.06,.39),(.12,.378),(.17,.386),(.10,.355),(.20,.36),(.06,.35),(-.32,.39),
(-.35,.37),(-.38,.348),(-.33,.345),(-.41,.33),(-.37,.315),(-.45,.31),(-.47,.25),(-.46,.22),(-.49,.16),(-.47,.12),
(-.50,.09),(-.52,.06),(-.50,.02),(-.50,-.03),(-.55,-.05),(-.53,-.07),(-.57,-.12),(-.60,-.15),(-.60,-.20),(-.57,-.235),
(-.50,-.25),(-.47,-.26),(-.38,-.255),(-.30,-.26),(-.18,-.255),(-.12,-.26),(-.07,-.25),(-.02,-.255),(.03,-.262),(.06,-.245),
(.08,-.27),(.13,-.275),(.19,-.27),(.62,.36),(.65,.32),(.68,.28),(.71,.25),(.72,.21),(.73,.15),(.72,.09),
(.71,.04),(.72,-.02),(.71,-.10),(.70,-.15),(.69,-.19),(.69,-.28),(.66,-.28),(.65,-.345),(.62,-.375),(.57,-.41),
(.39,-.44),(.36,-.42),(.33,-.405),(.31,-.38),(.28,-.36),(.26,-.33),(.24,-.31),(.22,-.29),(.12,-.32),(.08,-.34),
]

# ---------- figure layout helpers ----------
def dx(l, r):
    return [l * S / W, r * S / W]
def dy(t, b):
    return [1 - b * S / H, 1 - t * S / H]

fig = go.Figure()

def axis(domain, rng, anchor, size, tlen=10, twid=2.4, lw=2.2, **kw):
    return dict(domain=domain, range=rng, anchor=anchor, showline=True, mirror=True, linecolor="#111",
                linewidth=lw, ticks="outside", ticklen=tlen, tickwidth=twid, tickcolor="#111", automargin=False,
                tickangle=0, showgrid=False, zeroline=False,
                tickfont=dict(family=FONT, size=size, color="#111"), **kw)

TOP_TICK = 38
BOT_TICK = 26
TOP_YTICK_LEN = 14
LABEL_SIZE = 26.7

lay = dict(width=1700, height=1854, margin=dict(l=0, r=0, t=0, b=0), paper_bgcolor="white",
           plot_bgcolor="white", showlegend=False, bargap=0, font=dict(family=FONT, color="#000"))

# scatter axes
lay["xaxis"] = axis(dx(96,682), [-2.44,4.57], "y", TOP_TICK, tickvals=[-2,0,2,4], ticklabelstandoff=-7)
lay["yaxis"] = axis(dy(74,766), [-2.42,4.53], "x", TOP_TICK, tlen=TOP_YTICK_LEN, tickvals=[-2,-1,0,1,2,3,4])

# histogram axes
hists = [
  ("2", hist_0, -2.18, .2544, (807,1038,74,358), [-2.44,4.57], 186, [0,50,100,150], [0,2.5]),
  ("3", hist_1, -2.12, .2536, (1161,1392,74,358), [-2.40,4.57], 162.4, [0,50,100,150], [0,2.5]),
  ("4", hist_p0, -3.86, .3338, (807,1038,482,766), [-4.53,4.62], 225.5, [0,100,200], [-2.5,0,2.5]),
  ("5", hist_p1, -2.17, .1924, (1161,1392,482,766), [-2.38,2.92], 242.6, [0,100,200], [0,2.5]),
]
for n, vals, start, width, (l,r,t,b), xr, ytop, yt, xt in hists:
    lay["xaxis"+n] = axis(dx(l,r), xr, "y"+n, TOP_TICK, tickvals=xt, tickformat=".1f", ticklabelstandoff=-7)
    lay["yaxis"+n] = axis(dy(t,b), [0,ytop], "x"+n, TOP_TICK, tlen=TOP_YTICK_LEN, tickvals=yt)
    fig.add_trace(go.Bar(x0=start+width/2, dx=width, y=vals, width=width, marker=dict(color=BLUE, line=dict(width=0)),
                         xaxis="x"+n, yaxis="y"+n))

# scatter + arrows
px = [p[0] for p in lower_cluster + upper_cluster]
py = [p[1] for p in lower_cluster + upper_cluster]
fig.add_trace(go.Scatter(x=px, y=py, mode="markers", marker=dict(size=9, color=BLUE, opacity=.68, line=dict(width=0)),
                         xaxis="x", yaxis="y"))

def arrow(tx, ty, L, Wd, line_col, fill_col, lw, edge, xa, ya):
    n = (tx*tx + ty*ty) ** .5
    ux, uy = tx/n, ty/n
    bx, by = tx - ux*L, ty - uy*L
    fig.add_trace(go.Scatter(x=[0,bx], y=[0,by], mode="lines", line=dict(color=line_col, width=lw), xaxis=xa, yaxis=ya))
    px_, py_ = -uy*Wd/2, ux*Wd/2
    fig.add_trace(go.Scatter(x=[tx,bx+px_,bx-px_,tx], y=[ty,by+py_,by-py_,ty], mode="lines", fill="toself",
                             fillcolor=fill_col, line=dict(color=edge, width=1.6 if edge!=fill_col else 0.5),
                             xaxis=xa, yaxis=ya, cliponaxis=False))

for tx, ty in [(-.912,.92),(.895,.884)]:
    arrow(tx, ty, .3, .3, "orange", "orange", 3.6, "orange", "x", "y")
for tx, ty in [(1.30,0),(0,1.297)]:
    arrow(tx, ty, .3, .3, "black", "black", 3.6, "black", "x", "y")

# variance axes
lay["xaxis6"] = axis(dx(189,698), [.416,13.64], "y6", BOT_TICK, tlen=9, twid=2, lw=2, tick0=0, dtick=2)
lay["xaxis6"].update(showgrid=True, gridcolor="#808080", gridwidth=7)
lay["yaxis6"] = axis(dy(975,1507), [-.05,1.05], "x6", BOT_TICK, tlen=9, twid=2, lw=2,
                     tick0=0, dtick=.2, tickformat=".1f",
                     minor=dict(dtick=.05, tick0=0, showgrid=True, gridcolor="#808080", gridwidth=3.5, ticks="outside", ticklen=5, tickwidth=1.5, tickcolor="#111"),
                     title=dict(text="fractional explained variance (blue)<br>cumulative explained variance (black)",
                                font=dict(family=FONT,size=LABEL_SIZE,color="#000"), standoff=9))
lay["yaxis6"].update(showgrid=True, gridcolor="#808080", gridwidth=7)

fig.add_trace(go.Scatter(x=n_components, y=frac_var, mode="lines+markers", line=dict(color=BLUE, width=3),
                         marker=dict(size=18, color=BLUE), xaxis="x6", yaxis="y6"))
fig.add_trace(go.Scatter(x=n_components, y=cum_var, mode="lines+markers", line=dict(color="black", width=3, dash="10px,6px"),
                         marker=dict(size=18, color="black"), xaxis="x6", yaxis="y6"))

# biplot axes
lay["xaxis7"] = axis(dx(824,1332), [-.709,.878], "y7", BOT_TICK, tlen=9, twid=2, lw=2,
                     tickvals=[-.5,-.25,0,.25,.5,.75], tickformat=".2f")
lay["yaxis7"] = axis(dy(975,1507), [-.4995,.701], "x7", BOT_TICK, tlen=9, twid=2, lw=2,
                     tickvals=[-.4,-.2,0,.2,.4,.6], tickformat=".1f",
                     title=dict(text="1st principal component", font=dict(family=FONT,size=LABEL_SIZE,color="#000"), standoff=12))

rows = [r.replace(" ","") for r in density_rows]
rows_up = list(reversed(rows))
Y0 = .40 - (len(rows) - 1) * .025
LIGHT = "#a9c8ee"
# flat base: every occupied bin in the lightest colour
base = [[(1 if c != "0" else None) for c in r] for r in rows_up]
fig.add_trace(go.Heatmap(z=base, x0=-.6875, dx=.025, y0=Y0, dy=.025, zmin=0, zmax=1, showscale=False, hoverongaps=False,
                         colorscale=[[0,LIGHT],[1,LIGHT]], xaxis="x7", yaxis="y7"))
# smooth density on top: level 1 and below are transparent
smooth = [[max(int(c), 1) for c in r] for r in rows_up]
fig.add_trace(go.Heatmap(z=smooth, x0=-.6875, dx=.025, y0=Y0, dy=.025, zmin=1, zmax=9, showscale=False, zsmooth="best",
                         xaxis="x7", yaxis="y7",
                         colorscale=[[0,"rgba(169,200,238,0)"],[.125,"rgba(150,198,240,.9)"],[.25,"#8abff0"],[.375,"#68b3f2"],[.5,"#45a7f4"],
                                     [.625,"#2b9ff3"],[.75,"#2b84c6"],[.875,"#3b6a92"],[1,"#454f60"]]))
fig.add_trace(go.Scatter(x=[p[0] for p in speck_bins], y=[p[1] for p in speck_bins], mode="markers", cliponaxis=False,
                         marker=dict(symbol="line-ew", size=9, line=dict(color=LIGHT, width=3)),
                         xaxis="x7", yaxis="y7"))
for tx, ty in zip(arrow_x, arrow_y):
    arrow(tx, ty, .04, .04, "black", BLUE, 2.6, "black", "x7", "y7")

fig.update_layout(**lay)

# reference lines at the 90% threshold
fig.add_shape(type="line", xref="x6 domain", x0=0, x1=1, yref="y6", y0=.9, y1=.9, line=dict(color="black", width=2.6))
fig.add_shape(type="line", xref="x6", x0=6, x1=6, yref="y6 domain", y0=0, y1=1, line=dict(color="black", width=2.6, dash="8px,4px"))

# subplot titles and labels
ann = []
for txt, cx, ty in [("Example Data",389,74),("0 (var: 1.48)",922,74),("1 (var: 1.47)",1276.5,74),
                    ("PCA-0 (var: 2.46)",922,482),("PCA-1 (var: 0.49)",1276.5,482)]:
    ann.append(dict(text=txt, x=cx*S/W, y=1-ty*S/H, xref="paper", yref="paper", xanchor="center", yanchor="bottom",
                    yshift=5, showarrow=False, font=dict(family=FONT, size=47, color="#111")))
for txt, x, y, xa in [("PCA-0",.78,.935,"left"),("PCA-1",-.77,.935,"right"),("0",1.31,.25,"center"),("1",.335,1.25,"center")]:
    ann.append(dict(text="<b>%s</b>"%txt, x=x, y=y, xref="x", yref="y", xanchor=xa, yanchor="middle", showarrow=False,
                    font=dict(family=FONT, size=57, color="black")))
for txt, x, y in zip(arrow_names, label_x, label_y):
    ann.append(dict(text=txt, x=x, y=y, xref="x7", yref="y7", xanchor="center", yanchor="middle", showarrow=False,
                    font=dict(family=FONT, size=30, color="red")))
# x axis labels sit on the bottom edge of the page, as in the reference
for txt, cx in [("# principal components",443.5),("0th principal component",1078)]:
    ann.append(dict(text=txt, x=cx*S/W, y=1-1562*S/H, xref="paper", yref="paper", xanchor="center", yanchor="middle",
                    showarrow=False, font=dict(family=FONT, size=LABEL_SIZE, color="#000")))
fig.update_layout(annotations=ann)

fig.write_html("out.html", config=dict(displayModeBar=False),
               post_script="document.body.style.margin='0';document.body.style.overflow='hidden';")
